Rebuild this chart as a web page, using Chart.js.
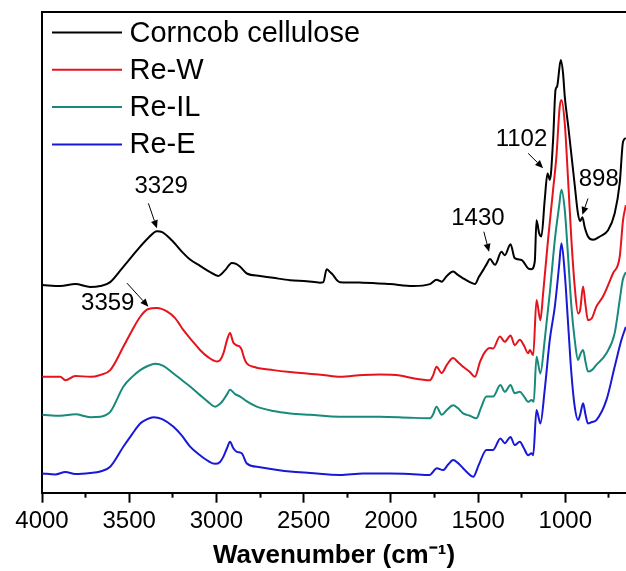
<!DOCTYPE html>
<html>
<head>
<meta charset="utf-8">
<script src="https://cdn.jsdelivr.net/npm/chart.js@4/dist/chart.umd.min.js"></script>
<style>
  html, body { margin: 0; padding: 0; background: #fff; }
  canvas { display: block; }
</style>
</head>
<body>
<canvas id="ftirChart" width="626" height="571"></canvas>
<script>
// x: wavenumber (cm-1), y: absorbance (a.u., offset curves)
const celluloseWn = [3998,3895,3809,3723,3666,3609,3534,3483,3437,3391,3341,3311,3248,3197,3151,3094,3036,2989,2950,2912,2887,2864,2826,2750,2675,2578,2482,2406,2387,2368,2349,2332,2309,2292,2160,2005,1874,1776,1738,1709,1679,1643,1616,1586,1547,1518,1495,1471,1450,1432,1403,1366,1347,1314,1290,1251,1214,1194,1175,1165,1150,1137,1118,1102,1088,1070,1056,1047,1026,1013,1003,984,965,946,928,915,902,888,870,841,802,755,717,688,669,653];
const celluloseAbs = [43.2,43.0,43.4,42.8,43.0,43.8,47.0,49.2,51.2,53.0,54.4,54.2,52.2,50.1,48.5,47.2,45.9,45.1,46.3,47.8,47.6,47.0,45.6,45.1,44.7,44.2,44.0,43.7,43.8,46.5,45.9,45.3,44.2,43.8,43.7,43.4,43.0,43.4,44.3,43.9,45.1,46.0,45.3,44.6,43.8,43.4,44.9,46.3,47.6,48.6,47.4,50.1,49.4,51.7,48.8,48.4,46.7,46.5,48.1,56.7,54.0,53.3,60.9,66.4,65.1,73.4,83.8,84.5,90.0,87.3,82.4,76.5,70.3,64.0,58.2,56.5,57.3,55.1,53.3,52.6,53.3,54.6,58.1,64.4,73.0,73.8];

const reWWn = [3998,3895,3866,3809,3723,3666,3609,3533,3483,3437,3391,3341,3284,3237,3189,3139,3094,3048,2998,2979,2960,2939,2922,2904,2887,2864,2855,2841,2826,2778,2674,2578,2482,2389,2292,2160,2064,1948,1872,1776,1759,1738,1709,1679,1643,1616,1586,1547,1518,1489,1460,1432,1414,1375,1347,1314,1290,1261,1238,1213,1203,1184,1165,1143,1127,1099,1070,1051,1032,1022,1003,984,965,946,927,915,898,884,870,848,822,784,727,688,669,653];
const reWAbs = [24.1,24.1,23.4,24.3,24.1,24.5,25.5,30.4,33.8,36.6,38.2,38.4,37.7,36.3,33.8,31.6,29.7,28.2,27.3,27.6,29.0,31.8,33.2,31.3,30.7,30.3,29.7,28.0,26.9,26.1,25.5,25.1,24.8,24.5,24.1,24.5,24.6,24.4,23.8,23.4,24.3,26.2,24.9,26.6,28.0,27.2,26.2,25.1,24.1,27.2,29.3,30.1,30.0,32.5,31.4,32.7,30.7,31.8,30.7,29.0,29.7,28.6,40.1,35.9,41.5,52.6,63.0,69.9,80.3,81.7,76.8,65.1,52.6,42.9,37.3,38.0,42.9,39.0,35.9,36.3,38.7,40.8,45.6,49.1,56.7,59.8];

const reILWn = [3998,3895,3809,3723,3666,3609,3533,3483,3437,3391,3351,3305,3246,3197,3151,3094,3048,3008,2979,2960,2939,2922,2893,2864,2830,2769,2675,2578,2463,2292,2063,1891,1776,1759,1738,1709,1679,1643,1616,1586,1547,1509,1484,1452,1414,1372,1347,1314,1290,1261,1238,1213,1194,1181,1165,1143,1118,1089,1060,1036,1022,1003,984,965,946,927,915,898,884,870,848,822,764,717,688,671,653];
const reILAbs = [16.2,16.0,16.3,15.7,15.8,16.8,22.1,24.1,25.5,26.4,26.8,26.4,24.8,23.4,22.1,20.3,18.9,17.9,18.5,19.3,20.5,21.4,20.5,20.0,19.1,17.9,17.0,16.5,16.2,15.8,15.8,15.6,15.5,16.2,17.9,16.2,17.2,18.2,17.6,16.5,16.0,15.5,17.6,20.0,20.0,22.4,21.0,22.4,20.7,21.0,20.1,18.9,19.3,18.9,28.3,24.8,31.8,41.5,52.6,59.5,63.0,58.8,49.1,38.7,31.8,27.6,28.7,29.7,27.2,25.2,25.5,26.6,29.0,33.2,40.1,44.2,45.9];

const reEWn = [3998,3924,3866,3809,3723,3666,3609,3533,3483,3437,3397,3361,3311,3246,3197,3151,3094,3048,3008,2979,2960,2939,2922,2904,2883,2855,2826,2750,2578,2463,2292,2158,2005,1891,1776,1759,1738,1700,1673,1643,1616,1586,1559,1528,1496,1452,1414,1372,1347,1314,1290,1261,1238,1213,1194,1184,1165,1143,1118,1089,1060,1036,1022,1003,984,965,946,927,915,898,884,870,848,822,764,717,678,653];
const reEAbs = [4.0,3.8,4.3,3.9,4.1,4.4,5.4,9.6,12.2,14.4,15.3,15.7,15.3,13.7,11.8,9.6,7.8,6.6,6.0,6.4,7.5,9.3,10.6,9.3,8.5,8.2,6.1,5.3,4.4,4.1,3.7,4.0,4.0,3.9,3.7,4.3,5.1,4.7,5.8,6.8,6.2,5.1,4.1,3.3,5.8,8.9,8.9,11.3,10.3,11.6,9.9,10.6,9.3,7.8,8.2,7.8,17.2,14.4,21.4,31.8,38.7,47.0,51.9,45.6,35.2,24.8,17.9,15.1,16.2,18.6,16.2,14.4,14.7,15.1,19.3,26.2,31.8,34.5];

const seriesNames = ['Corncob cellulose', 'Re-W', 'Re-IL', 'Re-E'];

// axis ticks
const majorTicks = [4000, 3500, 3000, 2500, 2000, 1500, 1000];
const minorTicks = [3750, 3250, 2750, 2250, 1750, 1250, 750];
const wnMin = 652, wnMax = 4000;

// peak labels: text, label position, arrow start, arrow end
const peakText = ['3329', '3359', '1430', '1102', '898'];
const peakX = [3317, 3623, 1501, 1251, 808];
const peakY = [64.0, 39.5, 57.2, 73.7, 65.4];
const arrowFromX = [3390, 3513, 1467, 1213, 870];
const arrowFromY = [60.2, 43.6, 54.3, 70.6, 61.2];
const arrowToX = [3341, 3390, 1437, 1127, 902];
const arrowToY = [55.0, 38.7, 50.1, 67.5, 57.8];

const FONT = '"Liberation Sans", Arial, Helvetica, sans-serif';

function toPoints(xs, ys) {
    return xs.map((x, i) => ({ x: x, y: ys[i] }));
}

function makeSet(label, xs, ys, color) {
    return {
        label: label,
        data: toPoints(xs, ys),
        borderColor: color,
        backgroundColor: color,
        borderWidth: 2,
        pointRadius: 0,
        cubicInterpolationMode: 'monotone',
        borderJoinStyle: 'round',
        fill: false
    };
}

// legend drawn in the upper-left corner of the plot
const lineLegend = {
    id: 'lineLegend',
    afterDraw(chart) {
        const ctx = chart.ctx;
        const area = chart.chartArea;
        ctx.save();
        ctx.font = '29px ' + FONT;
        ctx.textBaseline = 'middle';
        ctx.textAlign = 'left';
        chart.data.datasets.forEach((ds, i) => {
            const y = area.top + 20.5 + i * 37.3;
            ctx.strokeStyle = ds.borderColor;
            ctx.lineWidth = 2;
            ctx.beginPath();
            ctx.moveTo(area.left + 10, y);
            ctx.lineTo(area.left + 80, y);
            ctx.stroke();
            ctx.fillStyle = '#000';
            ctx.fillText(ds.label, area.left + 87.5, y + 1);
        });
        ctx.restore();
    }
};

// peak labels with arrows
const peakLabels = {
    id: 'peakLabels',
    afterDatasetsDraw(chart) {
        const ctx = chart.ctx;
        const xs = chart.scales.x, ys = chart.scales.y;
        ctx.save();
        ctx.font = '24px ' + FONT;
        ctx.textAlign = 'center';
        ctx.textBaseline = 'middle';
        ctx.fillStyle = '#000';
        ctx.strokeStyle = '#000';
        peakText.forEach((t, i) => {
            ctx.fillText(t, xs.getPixelForValue(peakX[i]), ys.getPixelForValue(peakY[i]) + 1);
            const x1 = xs.getPixelForValue(arrowFromX[i]), y1 = ys.getPixelForValue(arrowFromY[i]);
            const x2 = xs.getPixelForValue(arrowToX[i]), y2 = ys.getPixelForValue(arrowToY[i]);
            const ang = Math.atan2(y2 - y1, x2 - x1);
            const head = 8, half = 3.5;
            ctx.lineWidth = 1;
            ctx.beginPath();
            ctx.moveTo(x1, y1);
            ctx.lineTo(x2 - Math.cos(ang) * head, y2 - Math.sin(ang) * head);
            ctx.stroke();
            ctx.beginPath();
            ctx.moveTo(x2, y2);
            ctx.lineTo(x2 - Math.cos(ang) * head - Math.sin(ang) * half, y2 - Math.sin(ang) * head + Math.cos(ang) * half);
            ctx.lineTo(x2 - Math.cos(ang) * head + Math.sin(ang) * half, y2 - Math.sin(ang) * head - Math.cos(ang) * half);
            ctx.closePath();
            ctx.fill();
        });
        ctx.restore();
    }
};

const ctx = document.getElementById('ftirChart').getContext('2d');
new Chart(ctx, {
    type: 'line',
    data: {
        datasets: [
            makeSet(seriesNames[0], celluloseWn, celluloseAbs, '#000000'),
            makeSet(seriesNames[1], reWWn, reWAbs, '#e5141c'),
            makeSet(seriesNames[2], reILWn, reILAbs, '#178a7b'),
            makeSet(seriesNames[3], reEWn, reEAbs, '#1818d6')
        ]
    },
    options: {
        responsive: false,
        animation: false,
        layout: { padding: { left: 42, top: 12, right: 0, bottom: 0 } },
        plugins: {
            legend: { display: false },
            tooltip: { enabled: false }
        },
        scales: {
            x: {
                type: 'linear',
                position: 'bottom',
                weight: 1,
                min: wnMin,
                max: wnMax,
                reverse: true,
                afterBuildTicks: s => { s.ticks = majorTicks.map(v => ({ value: v })); },
                afterFit: s => { s.height = 78.3; },
                ticks: {
                    color: '#000',
                    padding: 4,
                    maxRotation: 0,
                    autoSkip: false,
                    callback: v => String(v),
                    font: { family: FONT, size: 24 }
                },
                grid: {
                    drawOnChartArea: false,
                    tickLength: 10,
                    tickWidth: 2,
                    tickColor: '#000'
                },
                border: { color: '#000', width: 2 },
                title: {
                    display: true,
                    text: 'Wavenumber (cm\u207B\u00B9)',
                    color: '#000',
                    padding: { top: 0, bottom: 0 },
                    font: { family: FONT, size: 26, weight: 'bold' }
                }
            },
            xMinor: {
                type: 'linear',
                position: 'bottom',
                weight: 0,
                min: wnMin,
                max: wnMax,
                reverse: true,
                afterBuildTicks: s => { s.ticks = minorTicks.map(v => ({ value: v })); },
                afterFit: s => { s.height = 0; },
                ticks: { display: false },
                grid: {
                    drawOnChartArea: false,
                    tickLength: 5,
                    tickWidth: 2,
                    tickColor: '#000'
                },
                border: { display: false }
            },
            xTop: {
                type: 'linear',
                position: 'top',
                min: wnMin,
                max: wnMax,
                reverse: true,
                afterFit: s => { s.height = 0; },
                ticks: { display: false },
                grid: { drawOnChartArea: false, drawTicks: false },
                border: { color: '#000', width: 2 }
            },
            y: {
                type: 'linear',
                min: 0,
                max: 100,
                afterFit: s => { s.width = 0; },
                ticks: { display: false },
                grid: { drawOnChartArea: false, drawTicks: false },
                border: { color: '#000', width: 2 }
            }
        }
    },
    plugins: [peakLabels, lineLegend]
});
</script>
</body>
</html>
